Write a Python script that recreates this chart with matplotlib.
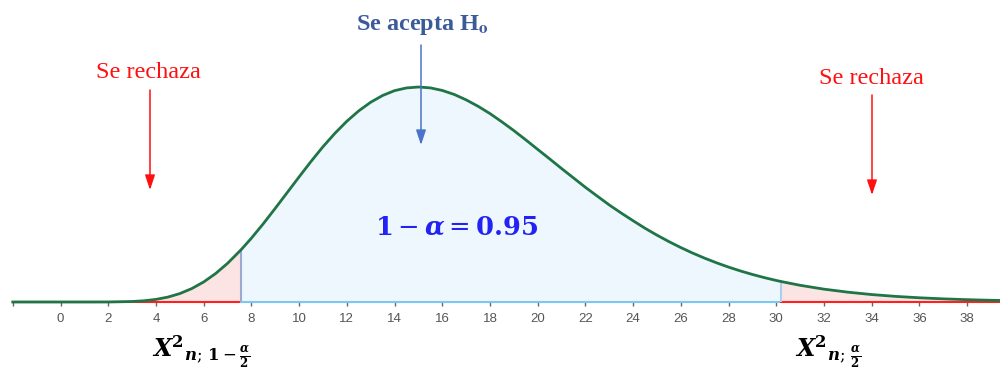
import matplotlib
matplotlib.use('Agg')
import matplotlib.pyplot as plt

# densidad chi-cuadrado, n = 17
x_vals = [-2, -1, 0, 1, 2, 3, 3.5, 4, 4.5, 5, 5.5, 6, 6.5, 7, 7.56, 8, 8.5, 9, 9.5,
          10, 10.5, 11, 11.5, 12, 12.5, 13, 13.5, 14, 14.5, 15, 15.5, 16, 16.5, 17,
          17.5, 18, 18.5, 19, 19.5, 20, 20.5, 21, 21.5, 22, 22.5, 23, 23.5, 24, 24.5,
          25, 25.5, 26, 26.5, 27, 27.5, 28, 28.5, 29, 29.5, 30, 30.19, 31, 32, 33,
          34, 35, 36, 37, 38, 39, 40]
dens = [0, 0, 0, 0, 0.00001, 0.00017, 0.00041, 0.00087, 0.00164, 0.00282, 0.00449,
        0.00671, 0.00953, 0.01294, 0.01743, 0.02137, 0.02623, 0.03137, 0.03664,
        0.04191, 0.04708, 0.0520, 0.05649, 0.06053, 0.06401, 0.0669, 0.06916,
        0.07078, 0.07169, 0.0720, 0.07171, 0.07085, 0.06951, 0.0677, 0.06555,
        0.0631, 0.06032, 0.0574, 0.05430, 0.0511, 0.04793, 0.0447, 0.04155,
        0.0384, 0.03544, 0.0325, 0.02979, 0.0272, 0.02469, 0.02238, 0.02022,
        0.01822, 0.01636, 0.01467, 0.01311, 0.01168, 0.01039, 0.00922, 0.00816,
        0.00721, 0.00687, 0.00559, 0.00430, 0.00329, 0.00249, 0.00188, 0.00141,
        0.00105, 0.00078, 0.00057, 0.00042]
x_low = 7.56
x_high = 30.19
tick_pos = list(range(-2, 40, 2))
tick_lab = [''] + [str(t) for t in range(0, 40, 2)]

fig = plt.figure(figsize=(10, 3.8), dpi=100)
ax = fig.add_axes([0, 78 / 380, 1, 302 / 380])
ax.set_xlim(-2.536, 39.375)
ax.set_ylim(0, 302 / 2986)

# rellenos
left = [(x, y) for x, y in zip(x_vals, dens) if x <= x_low]
mid = [(x, y) for x, y in zip(x_vals, dens) if x_low <= x <= x_high]
right = [(x, y) for x, y in zip(x_vals, dens) if x >= x_high]
ax.fill_between([p[0] for p in left], [p[1] for p in left], color='#fde4e4', lw=0)
ax.fill_between([p[0] for p in mid], [p[1] for p in mid], color='#eef7fe', lw=0)
ax.fill_between([p[0] for p in right], [p[1] for p in right], color='#fde4e4', lw=0)

# linea base por regiones
ax.plot([x_vals[0], x_low], [0, 0], color='#ff2020', lw=1.5, clip_on=False)
ax.plot([x_low, x_high], [0, 0], color='#7cc8f2', lw=1.5, clip_on=False)
ax.plot([x_high, x_vals[-1]], [0, 0], color='#ff2020', lw=1.5, clip_on=False)

# valores criticos
ax.plot([x_low, x_low], [0, dens[x_vals.index(x_low)]], color='#9aaad0', lw=1.5)
ax.plot([x_high, x_high], [0, dens[x_vals.index(x_high)]], color='#a8d0f0', lw=1.5)

ax.plot(x_vals, dens, color='#1f7545', lw=2, clip_on=False)

for s in ax.spines.values():
    s.set_visible(False)
ax.set_yticks([])
ax.set_xticks(tick_pos)
ax.set_xticklabels(tick_lab, fontsize=9.5, color='#555555', family='Liberation Sans')
ax.tick_params(axis='x', length=3, width=1, color='#666666', pad=5)

# textos y flechas (coordenadas en pixeles de la figura)
H = 380
serif = ['Liberation Serif', 'DejaVu Serif']
fig.text(422 / 1000, 1 - 25 / H, r'Se acepta H$_{\mathbf{o}}$', ha='center', va='center',
         fontsize=17.5, fontweight='bold', color='#3b5a9a', family=serif, math_fontfamily='stix')
fig.text(148 / 1000, 1 - 72 / H, 'Se rechaza', ha='center', va='center',
         fontsize=17.5, color='#ff1010', family=serif)
fig.text(871 / 1000, 1 - 78 / H, 'Se rechaza', ha='center', va='center',
         fontsize=17.5, color='#ff1010', family=serif)

arrows = [(421, 45, 145, '#4a74c8'), (150, 90, 190, '#ff1010'), (872, 95, 195, '#ff1010')]
for xa, y0, y1, c in arrows:
    ax.annotate('', xy=(xa, H - y1), xycoords='figure pixels',
                xytext=(xa, H - y0), textcoords='figure pixels',
                arrowprops=dict(arrowstyle='-|>,head_length=0.9,head_width=0.3',
                                color=c, lw=1.1, shrinkA=0, shrinkB=0))

fig.text(457 / 1000, 1 - 228 / H, r'$\mathbf{1}-\boldsymbol{\alpha}=\mathbf{0.95}$',
         ha='center', va='center', fontsize=18.5, color='#2222f5',
         math_fontfamily='dejavuserif')

lab_lo = r'$\boldsymbol{X}^{\mathbf{2}}{}_{\boldsymbol{n};\,\mathbf{1}-\frac{\boldsymbol{\alpha}}{\mathbf{2}}}$'
lab_hi = r'$\boldsymbol{X}^{\mathbf{2}}{}_{\boldsymbol{n};\,\frac{\boldsymbol{\alpha}}{\mathbf{2}}}$'
fig.text(152 / 1000, 1 - 352 / H, lab_lo, ha='left', va='center', fontsize=17,
         color='black', math_fontfamily='dejavuserif')
fig.text(795 / 1000, 1 - 352 / H, lab_hi, ha='left', va='center', fontsize=17,
         color='black', math_fontfamily='dejavuserif')

fig.savefig('out.png', dpi=100)
